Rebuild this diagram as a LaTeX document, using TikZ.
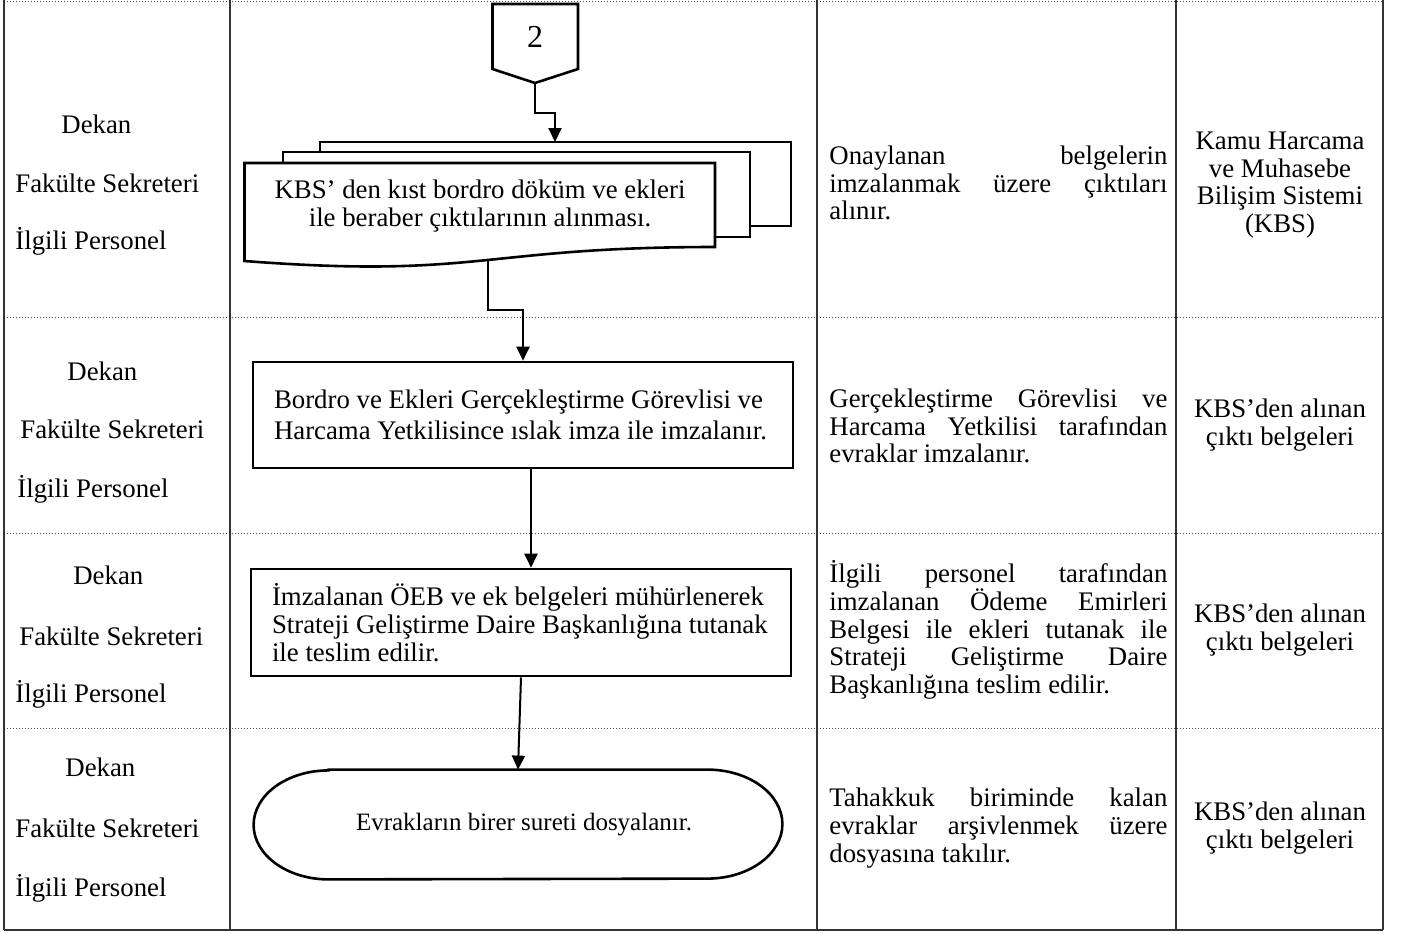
\documentclass[tikz,border=0pt]{standalone}
\usepackage{fontspec}
\setmainfont{Liberation Serif}
\usetikzlibrary{arrows.meta}
\newcommand{\jline}[1]{\makebox[169pt][s]{\spaceskip=.25em plus 20em #1}}
\begin{document}
\begin{tikzpicture}[x=0.5pt, y=-0.5pt, font=\fontsize{13.4}{13.9}\selectfont,
	every node/.append style={execute at begin node={\spaceskip=0pt \xspaceskip=0pt}},
	tableline/.style={line width=0.8pt, black!80},
	rowline/.style={line width=0.5pt, densely dotted, black!70},
	box/.style={draw, line width=1.3pt, minimum width=270pt, minimum height=53pt, text width=249pt, inner xsep=10.5pt, align=left},
	sheet/.style={draw, line width=1.3pt, fill=white},
	arr/.style={line width=1pt, -{Triangle[width=6.5pt,length=7pt]}},
	actor/.style={anchor=base west, inner sep=0pt},
	desc/.style={anchor=west, text width=169pt, align=left, inner sep=0pt},
	src/.style={align=center, inner sep=0pt}]
			\useasboundingbox (0,0) rectangle (1402,933);
			
			\draw[rowline] (4,1) -- (1383,1);
			\draw[rowline] (4,317) -- (1383,317);
			\draw[rowline] (4,533) -- (1383,533);
			\draw[rowline] (4,728) -- (1383,728);
			\draw[tableline] (4,930) -- (1383,930);
			\draw[tableline] (4,0) -- (4,930);
			\draw[tableline] (230,0) -- (230,930);
			\draw[tableline] (817,0) -- (817,930);
			\draw[tableline] (1176,0) -- (1176,930);
			\draw[tableline] (1383,0) -- (1383,930);
			
			\node[actor] (dekan1) at (61,133) {Dekan};
			\node[actor] (sekr1) at (15,192) {Fakülte Sekreteri};
			\node[actor] (pers1) at (15,249) {İlgili Personel};
			\node[actor] (dekan2) at (67,380) {Dekan};
			\node[actor] (sekr2) at (20,438) {Fakülte Sekreteri};
			\node[actor] (pers2) at (17,497) {İlgili Personel};
			\node[actor] (dekan3) at (73,584) {Dekan};
			\node[actor] (sekr3) at (19,645) {Fakülte Sekreteri};
			\node[actor] (pers3) at (15,702) {İlgili Personel};
			\node[actor] (dekan4) at (65,776) {Dekan};
			\node[actor] (sekr4) at (15,837) {Fakülte Sekreteri};
			\node[actor] (pers4) at (15,896) {İlgili Personel};
			
			\draw[sheet] (492.5,4) -- (578,4) -- (578,69) -- (535,83) -- (492.5,69) -- cycle;
			\node[font=\fontsize{16}{18}\selectfont] (c2) at (535,37) {2};
			\coordinate (c2tip) at (535,83);
			\coordinate (j1) at (555,113);
			\coordinate (d3top) at (555,142);
			
			\draw[sheet] (320,142) rectangle (791,226);
			\draw[sheet] (283,152) rectangle (750,237);
			\draw[sheet] (244.5,163) -- (715,163) -- (715,247) .. controls (480,247) and (480,279) .. (244.5,261) -- cycle;
			\node[align=center] (d1) at (480,206) {KBS’ den kıst bordro döküm ve ekleri\\ile beraber çıktılarının alınması.};
			\coordinate (dout) at (488,260);
			\coordinate (j2) at (523,310);
			
			\node[box, font=\fontsize{13.4}{15.5}\selectfont] (b2) at (523,415) {Bordro ve Ekleri Gerçekleştirme Görevlisi ve\\Harcama Yetkilisince ıslak imza ile imzalanır.};
			\node[box, minimum height=53.5pt] (b3) at (521,622.5) {\mbox{İmzalanan ÖEB ve ek belgeleri mühürlenerek}\\\mbox{Strateji Geliştirme Daire Başkanlığına tutanak}\\ile teslim edilir.};
			\node[minimum width=264pt, minimum height=54.5pt, font=\fontsize{12.5}{14}\selectfont] (t4) at (518,824.5) {\hspace*{6pt}Evrakların birer sureti dosyalanır.};
			\draw[line width=1.3pt] ([xshift=37.5pt]t4.north west) -- ([xshift=-37.5pt]t4.north east) arc[start angle=90, end angle=-90, x radius=37.5pt, y radius=27.25pt] -- ([xshift=37.5pt]t4.south west) arc[start angle=270, end angle=90, x radius=37.5pt, y radius=27.25pt] -- cycle;
			
			\draw[arr] (c2tip) |- (j1) -- (d3top);
			\draw[arr] (dout) |- (j2) -- (b2.north);
			\draw[arr] ([xshift=4pt]b2.south) -- ([xshift=5pt]b3.north);
			\draw[arr] (b3.south) -- (t4.north);
			
			\node[desc] (a1) at (829,183) {\jline{Onaylanan belgelerin}\\\jline{imzalanmak üzere çıktıları}\\alınır.};
			\node[desc] (a2) at (829,426) {\jline{Gerçekleştirme Görevlisi ve}\\\jline{Harcama Yetkilisi tarafından}\\evraklar imzalanır.};
			\node[desc] (a3) at (829,630) {\jline{İlgili personel tarafından}\\\jline{imzalanan Ödeme Emirleri}\\\jline{Belgesi ile ekleri tutanak ile}\\\jline{Strateji Geliştirme Daire}\\Başkanlığına teslim edilir.};
			\node[desc] (a4) at (829,828) {\jline{Tahakkuk biriminde kalan}\\\jline{evraklar arşivlenmek üzere}\\dosyasına takılır.};
			
			\node[src] (s1) at (1280,185) {Kamu Harcama\\ve Muhasebe\\Bilişim Sistemi\\(KBS)};
			\node[src] (s2) at (1280,425) {KBS’den alınan\\çıktı belgeleri};
			\node[src] (s3) at (1280,630) {KBS’den alınan\\çıktı belgeleri};
			\node[src] (s4) at (1280,828) {KBS’den alınan\\çıktı belgeleri};
		\end{tikzpicture}
\end{document}
